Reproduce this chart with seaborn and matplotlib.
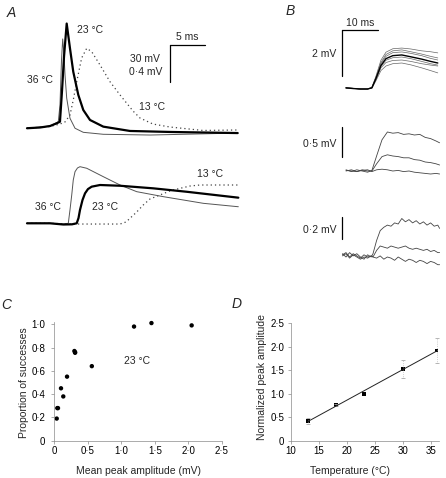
import numpy as np
import pandas as pd
import matplotlib
matplotlib.use('Agg')
import matplotlib.pyplot as plt
import seaborn as sns

# ---------------- data ----------------
# Panel A, top (action potentials): time (ms), membrane potential relative to rest (mV)
a_top_t_23 = [0, 1.86, 3.29, 4.24, 4.71, 5.0, 5.29, 5.67, 6.14, 6.61, 7.33, 8.04, 9.0, 10.9, 14.7, 20.4, 30.1]
a_top_v_23 = [-0.2, 0.4, 1.6, 3.8, 5.1, 30.0, 58.0, 84.7, 64.6, 45.6, 26.8, 14.6, 6.5, 1.1, -2.4, -3.2, -4.1]
a_top_t_36 = [0, 3.29, 4.14, 4.47, 4.71, 4.93, 5.1, 5.29, 5.43, 5.67, 6.14, 6.86, 8.04, 10.9, 17.6, 30.1]
a_top_v_36 = [-0.2, 1.6, 4.1, 5.1, 18.6, 55.1, 72.2, 59.2, 43.0, 24.3, 7.9, -0.2, -3.5, -5.1, -5.7, -4.1]
a_top_t_13 = [0, 3.29, 4.71, 5.43, 6.14, 6.61, 7.1, 7.81, 8.53, 9.24, 10.43, 11.86, 13.29, 15.14, 16.14, 18.0, 20.43, 25.14, 30.14]
a_top_v_13 = [-0.2, 1.2, 3.2, 4.9, 10.5, 22.7, 37.5, 56.8, 64.6, 61.9, 51.1, 37.5, 26.8, 13.8, 8.1, 3.2, 0.8, -2.0, -1.6]

# Panel A, bottom (EPSPs): time (ms), mV
a_bot_t_23 = [0, 3.29, 5.19, 6.43, 7.1, 7.36, 7.57, 7.93, 8.29, 8.71, 9.24, 10.43, 13.29, 18.04, 22.81, 30.19]
a_bot_v_23 = [0, 0, -0.013, -0.011, 0, 0.057, 0.144, 0.252, 0.324, 0.370, 0.396, 0.414, 0.406, 0.378, 0.341, 0.277]
a_bot_t_36 = [0, 3.29, 5.14, 5.9, 6.14, 6.39, 6.61, 6.86, 7.21, 7.57, 8.53, 10.9, 13.29, 15.67, 19.47, 25.19, 30.19]
a_bot_v_36 = [0, 0, -0.008, 0, 0.144, 0.306, 0.468, 0.558, 0.598, 0.612, 0.595, 0.504, 0.414, 0.342, 0.288, 0.216, 0.179]
a_bot_t_13 = [0, 3.29, 6.14, 10.43, 13.29, 14.14, 14.71, 15.67, 16.61, 17.57, 19.0, 20.43, 21.86, 23.29, 24.71, 30.19]
a_bot_v_13 = [0, 0, -0.008, -0.008, -0.008, 0.014, 0.054, 0.122, 0.198, 0.263, 0.306, 0.35, 0.378, 0.403, 0.414, 0.414]

# Panel B1 (2 mV scale): time (ms), mV
b1_t = [0, 2, 4, 6, 7.2, 8.3, 9.7, 11.1, 13, 15.5, 18, 21, 23.5, 25.5]
b1_traces = [
    [0.05, 0.03, 0.0, 0.0, 0.08, 0.55, 1.25, 1.60, 1.75, 1.78, 1.74, 1.66, 1.62, 1.57],
    [0.04, 0.02, 0.0, 0.0, 0.06, 0.50, 1.15, 1.50, 1.66, 1.70, 1.62, 1.52, 1.42, 1.35],
    [0.06, 0.03, 0.0, 0.0, 0.07, 0.48, 1.10, 1.42, 1.58, 1.61, 1.55, 1.45, 1.33, 1.26],
    [0.05, 0.02, 0.0, 0.0, 0.05, 0.45, 1.02, 1.32, 1.45, 1.48, 1.40, 1.30, 1.20, 1.13],
    [0.04, 0.02, 0.0, 0.0, 0.06, 0.42, 0.98, 1.25, 1.36, 1.39, 1.32, 1.20, 1.10, 1.04],
    [0.05, 0.03, 0.0, 0.0, 0.05, 0.40, 0.92, 1.15, 1.24, 1.26, 1.20, 1.10, 1.04, 1.00],
    [0.04, 0.02, 0.0, 0.0, 0.04, 0.35, 0.80, 1.00, 1.10, 1.13, 1.05, 0.92, 0.80, 0.70],
]
# Panel B2 (0.5 mV scale)
b2_t = [0, 1.5, 3, 4.5, 6, 7.2, 8.5, 10, 11.5, 13, 14.5, 16, 17.5, 19, 20.5, 22, 23.5, 25, 26]
b2_traces = [
    [0.02, -0.01, 0.02, 0.0, -0.02, 0.01, 0.25, 0.52, 0.65, 0.63, 0.64, 0.61, 0.62, 0.60, 0.61, 0.56, 0.54, 0.50, 0.47],
    [0.01, 0.0, -0.01, 0.02, 0.0, 0.0, 0.12, 0.24, 0.27, 0.25, 0.24, 0.22, 0.22, 0.19, 0.18, 0.15, 0.14, 0.12, 0.10],
    [0.0, 0.02, -0.01, 0.01, 0.02, -0.01, 0.02, 0.03, 0.02, 0.0, 0.01, -0.01, 0.0, -0.02, -0.03, -0.04, -0.05, -0.04, -0.05],
]
# Panel B3 (0.2 mV scale)
b3_t = [-1, 0, 1, 2, 3, 4, 5, 6, 7, 7.5, 8.5, 9.5, 10.5, 11.5, 12.5, 13.5, 14.5, 15.5, 16.5, 17.5,
        18.5, 19.5, 20.5, 21.5, 22.5, 23.5, 24.5, 25.5, 26]
b3_traces = [
    [0.03, 0.0, 0.04, 0.01, 0.03, 0.0, -0.02, 0.02, 0.0, 0.03, 0.15, 0.24, 0.27, 0.29, 0.28, 0.31, 0.30,
     0.35, 0.32, 0.34, 0.31, 0.33, 0.30, 0.32, 0.29, 0.31, 0.28, 0.29, 0.26],
    [0.02, 0.04, 0.0, 0.03, 0.01, -0.01, 0.02, 0.0, 0.01, 0.0, 0.06, 0.10, 0.09, 0.08, 0.10, 0.09, 0.08,
     0.09, 0.10, 0.08, 0.07, 0.08, 0.07, 0.06, 0.07, 0.05, 0.06, 0.04, 0.04],
    [0.01, 0.03, -0.01, 0.02, 0.0, -0.02, 0.0, -0.01, 0.01, 0.0, -0.01, 0.01, -0.02, 0.0, -0.01, -0.03,
     0.0, -0.02, -0.04, -0.02, -0.03, -0.05, -0.03, -0.04, -0.06, -0.04, -0.05, -0.07, -0.07],
]

# Panel C
c_amp = [0.036, 0.045, 0.055, 0.10, 0.134, 0.19, 0.31, 0.31, 0.30, 0.56, 1.19, 1.45, 2.05]
c_prop = [0.19, 0.28, 0.28, 0.45, 0.38, 0.55, 0.76, 0.755, 0.77, 0.64, 0.98, 1.01, 0.99]
c_xticks = [0, 0.5, 1.0, 1.5, 2.0, 2.5]
c_xticklabels = ['0', '0·5', '1·0', '1·5', '2·0', '2·5']
c_yticks = [0, 0.2, 0.4, 0.6, 0.8, 1.0]
c_yticklabels = ['0', '0·2', '0·4', '0·6', '0·8', '1·0']

# Panel D
d_temp = [13, 18, 23, 30, 36]
d_amp = [0.42, 0.76, 1.0, 1.535, 1.92]
d_err = [0.07, 0.03, 0.0, 0.19, 0.27]
d_xticks = [10, 15, 20, 25, 30, 35]
d_xticklabels = ['10', '15', '20', '25', '30', '35']
d_yticks = [0, 0.5, 1.0, 1.5, 2.0, 2.5]
d_yticklabels = ['0', '0·5', '1·0', '1·5', '2·0', '2·5']

# ---------------- figure ----------------
W, H = 446, 478
sns.set_theme(style='white')
plt.rcParams['font.family'] = ['Liberation Sans', 'DejaVu Sans']
plt.rcParams['axes.unicode_minus'] = False

fig = plt.figure(figsize=(W / 100, H / 100), dpi=100)
FS = 7.5


def add_ax(x0, y0, x1, y1):
    return fig.add_axes([x0 / W, 1 - y1 / H, (x1 - x0) / W, (y1 - y0) / H])


def finish_trace_ax(ax, box, px0, py0, sx, sy):
    x0, y0, x1, y1 = box
    ax.set_xlim((x0 - px0) / sx, (x1 - px0) / sx)
    ax.set_ylim((py0 - y1) / sy, (py0 - y0) / sy)
    ax.axis('off')


def ftext(px, py, s, size=FS, **kw):
    fig.text(px / W, 1 - py / H, s, ha='center', va='center', size=size, **kw)


def trace(ax, t, v, color, lw, ls='-'):
    sns.lineplot(x=t, y=v, ax=ax, color=color, linewidth=lw, linestyle=ls,
                 sort=False, estimator=None, legend=False)


DOT = (0, (1, 2.4))

# ---- Panel A top
boxA1 = (0, 15, 245, 142)
axA1 = add_ax(*boxA1)
trace(axA1, a_top_t_13, a_top_v_13, '#444444', 0.9, DOT)
trace(axA1, a_top_t_36, a_top_v_36, '#555555', 0.7)
trace(axA1, a_top_t_23, a_top_v_23, 'black', 1.6)
# scale bar 5 ms / 30 mV
axA1.plot([20.43, 25.43], [67.3, 67.3], color='black', lw=0.9)
axA1.plot([20.43, 20.43], [67.3, 37.3], color='black', lw=0.9)
finish_trace_ax(axA1, boxA1, 27, 128, 7.0, 37 / 30)

# ---- Panel A bottom
boxA2 = (0, 150, 245, 240)
axA2 = add_ax(*boxA2)
trace(axA2, a_bot_t_13, a_bot_v_13, '#444444', 0.9, DOT)
trace(axA2, a_bot_t_36, a_bot_v_36, '#555555', 0.7)
trace(axA2, a_bot_t_23, a_bot_v_23, 'black', 1.6)
finish_trace_ax(axA2, boxA2, 27, 223.3, 7.0, 37 / 0.4)

ftext(11, 13, 'A', size=10, style='italic')
ftext(90, 30, '23 °C')
ftext(40, 80, '36 °C')
ftext(152, 107, '13 °C')
ftext(187, 37, '5 ms')
ftext(145, 59, '30 mV')
ftext(146, 72, '0·4 mV')
ftext(48, 207, '36 °C')
ftext(105, 207, '23 °C')
ftext(210, 174, '13 °C')

# ---- Panel B1
boxB1 = (300, 15, 446, 100)
axB1 = add_ax(*boxB1)
for i, v in enumerate(b1_traces):
    if i == 3:
        continue
    trace(axB1, b1_t, v, '#666666', 0.5)
trace(axB1, b1_t, b1_traces[3], 'black', 1.0)
axB1.plot([-1.11, 8.89], [2.565, 2.565], color='black', lw=0.9)
axB1.plot([-1.11, -1.11], [2.565, 0.565], color='black', lw=0.9)
finish_trace_ax(axB1, boxB1, 346, 89, 3.6, 23)

# ---- Panel B2
boxB2 = (300, 115, 446, 185)
axB2 = add_ax(*boxB2)
for v in b2_traces:
    trace(axB2, b2_t, v, '#444444', 0.6)
axB2.plot([-1.11, -1.11], [0.733, 0.233], color='black', lw=0.9)
finish_trace_ax(axB2, boxB2, 346, 171, 3.6, 60)

# ---- Panel B3
boxB3 = (300, 205, 446, 275)
axB3 = add_ax(*boxB3)
for v in b3_traces:
    trace(axB3, b3_t, v, '#444444', 0.6)
axB3.plot([-1.11, -1.11], [0.364, 0.164], color='black', lw=0.9)
finish_trace_ax(axB3, boxB3, 346, 257, 3.6, 110)

ftext(290, 11, 'B', size=10, style='italic')
ftext(360, 23, '10 ms')
ftext(324, 54, '2 mV')
ftext(320, 144, '0·5 mV')
ftext(320, 230, '0·2 mV')


def style_axes(ax, ypad):
    for s in ['top', 'right']:
        ax.spines[s].set_visible(False)
    for s in ['left', 'bottom']:
        ax.spines[s].set_color('#8a8a8a')
        ax.spines[s].set_linewidth(0.5)
    ax.tick_params(axis='both', which='both', bottom=True, left=True, length=2,
                   width=0.5, color='#8a8a8a', labelsize=7, labelcolor='black')
    ax.tick_params(axis='x', pad=1.5)
    ax.tick_params(axis='y', pad=ypad)
    ax.set_facecolor('none')


# ---- Panel C
axC = add_ax(54.3, 321.9, 221.8, 440.7)
sns.scatterplot(x=c_amp, y=c_prop, ax=axC, color='black', s=10, edgecolor='none',
                legend=False, clip_on=False)
axC.set_xlim(0, 2.5)
axC.set_ylim(0, 1.02)
axC.set_xticks(c_xticks, c_xticklabels)
axC.set_yticks(c_yticks, c_yticklabels)
style_axes(axC, 4.5)
axC.set_xlabel('Mean peak amplitude (mV)', size=FS, va='center')
axC.xaxis.set_label_coords(138 / W, 1 - 471 / H, transform=fig.transFigure)
axC.set_ylabel('Proportion of successes', size=FS, va='center', ha='center')
axC.yaxis.set_label_coords(24 / W, 1 - 383 / H, transform=fig.transFigure)
axC.text(1.23, 0.68, '23 °C', size=FS, ha='center', va='center')
ftext(6, 305, 'C', size=10, style='italic')

# ---- Panel D
axD = add_ax(291, 323.45, 439.4, 440.7)
err_t = [t for t, e in zip(d_temp, d_err) if e > 0]
err_a = [a for a, e in zip(d_amp, d_err) if e > 0]
err_e = [e for e in d_err if e > 0]
eb = axD.errorbar(err_t, err_a, yerr=err_e, fmt='none', ecolor='#aaaaaa',
                  elinewidth=0.5, capsize=1.5, capthick=0.6)
eb[2][0].set_linestyle(':')
sns.regplot(x=d_temp, y=d_amp, ax=axD, scatter=False, ci=None, truncate=True,
            line_kws={'color': '#222222', 'lw': 0.7})
sns.scatterplot(x=d_temp, y=d_amp, ax=axD, color='black', marker='s', s=7,
                edgecolor='none', legend=False)
axD.set_xlim(10, 36.5)
axD.set_ylim(0, 2.5)
axD.set_xticks(d_xticks, d_xticklabels)
axD.set_yticks(d_yticks, d_yticklabels)
style_axes(axD, 3.0)
axD.set_xlabel('Temperature (°C)', size=FS, va='center')
axD.xaxis.set_label_coords(350 / W, 1 - 471 / H, transform=fig.transFigure)
axD.set_ylabel('Normalized peak amplitude', size=FS, va='center', ha='center')
axD.yaxis.set_label_coords(262 / W, 1 - 377 / H, transform=fig.transFigure)
ftext(237, 304, 'D', size=10, style='italic')

fig.savefig('out.png', dpi=100)
